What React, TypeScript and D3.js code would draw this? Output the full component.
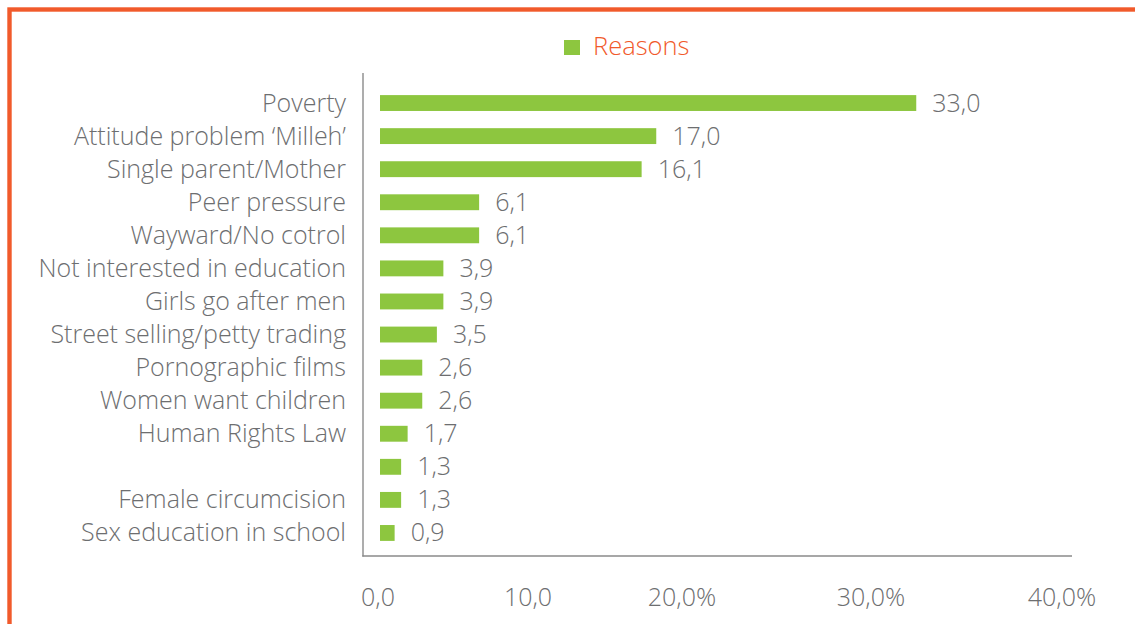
import React from "react";
import * as d3 from "d3";

const categories = [
  "Poverty",
  "Attitude problem \u2018Milleh\u2019",
  "Single parent/Mother",
  "Peer pressure",
  "Wayward/No cotrol",
  "Not interested in education",
  "Girls go after men",
  "Street selling/petty trading",
  "Pornographic films",
  "Women want children",
  "Human Rights Law",
  "",
  "Female circumcision",
  "Sex education in school",
];
const values = [33.0, 17.0, 16.1, 6.1, 6.1, 3.9, 3.9, 3.5, 2.6, 2.6, 1.7, 1.3, 1.3, 0.9];
const tickValues = [0, 10, 20, 30, 40];
const tickLabels = ["0,0", "10,0", "20,0%", "30,0%", "40,0%"];
const seriesName = "Reasons";

const W = 1135;
const H = 624;
const GREEN = "#8dc63f";
const ORANGE = "#f15a2b";
const GRAY = "#6d6e70";
const FONT = "'Open Sans', 'Liberation Sans', sans-serif";
const FS = 25;

export default function App() {
  const ids = categories.map((_, i) => String(i));
  const y = d3.scaleBand<string>().domain(ids).range([86.5, 549.5]).paddingInner(0.52).paddingOuter(0.26);
  const x = d3.scaleLinear().domain([0, 40]).range([380, 1030]);
  const xAxis = d3.scaleLinear().domain([0, 10, 20, 30, 40]).range([378, 528, 682, 871, 1062]);
  const fmt = (v: number) => d3.format(".1f")(v).replace(".", ",");

  return (
    <svg width={W} height={H} style={{ position: "absolute", left: 0, top: 0 }} fontFamily={FONT}>
      <rect x={0} y={0} width={W} height={H} fill="#fff" />
      <rect x={9.5} y={9.5} width={W + 20} height={H + 20} fill="none" stroke={ORANGE} strokeWidth={4.4} />
      {/* legend */}
      <rect x={564} y={40} width={16} height={15} fill={GREEN} />
      <text x={593} y={55} fontSize={25.5} fontWeight={300} fill={ORANGE}>{seriesName}</text>
      {/* axes */}
      <line x1={363} x2={363} y1={73} y2={556.5} stroke="#8a8a8a" strokeWidth={1.4} />
      <line x1={362.3} x2={1072} y1={556} y2={556} stroke="#8a8a8a" strokeWidth={1.4} />
      {/* bars */}
      {values.map((v, i) => {
        const yy = y(String(i))!;
        const bw = y.bandwidth();
        return (
          <g key={i}>
            <rect x={x(0)} y={yy} width={x(v) - x(0)} height={bw} fill={GREEN} />
            <text x={x(v) + 16} y={yy + bw / 2} dy="0.34em" fontSize={FS} fontWeight={300} fill={GRAY}>{fmt(v)}</text>
            <text x={346} y={yy + bw / 2} dy="0.34em" fontSize={FS} fontWeight={300} fill={GRAY} textAnchor="end">{categories[i]}</text>
          </g>
        );
      })}
      {/* x tick labels */}
      {tickValues.map((t, i) => (
        <text key={t} x={xAxis(t)} y={606} fontSize={FS} fontWeight={300} fill={GRAY} textAnchor="middle">{tickLabels[i]}</text>
      ))}
    </svg>
  );
}
